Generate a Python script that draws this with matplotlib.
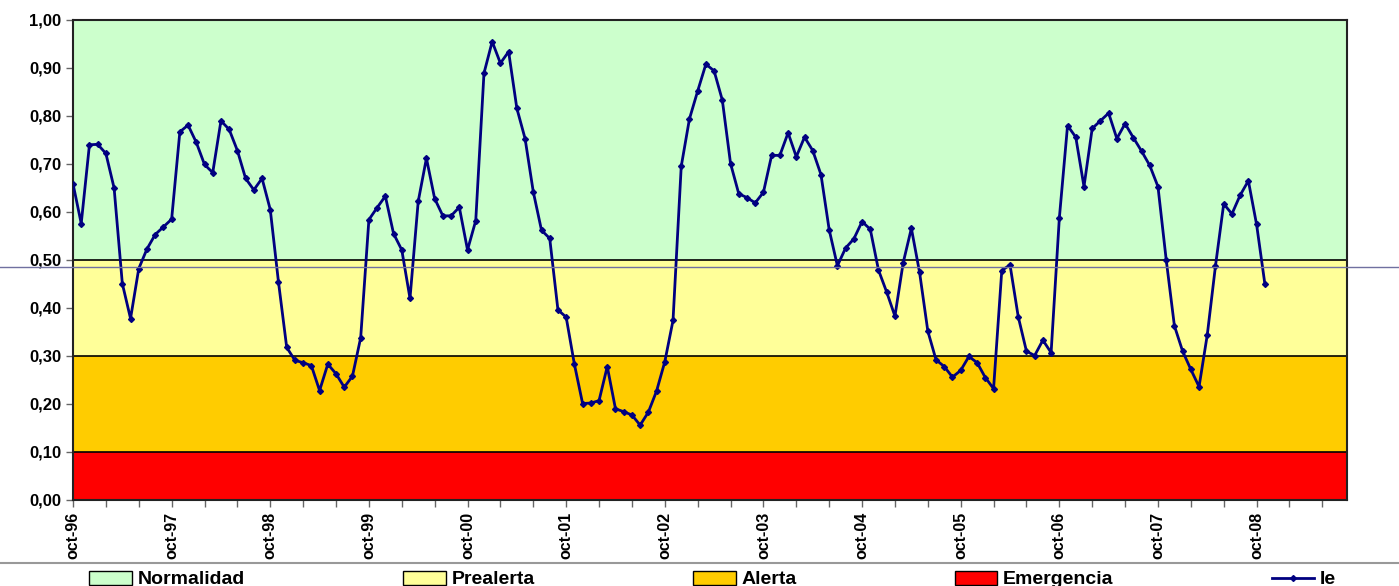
import numpy as np
import matplotlib.pyplot as plt
from matplotlib.lines import Line2D
from matplotlib.patches import Patch

plt.rcParams["font.family"] = ["Liberation Sans", "DejaVu Sans"]

# monthly index Ie, oct-96 .. nov-08
ie = [
    0.659, 0.576, 0.740, 0.741, 0.722, 0.650, 0.451, 0.378, 0.482, 0.523,
    0.553, 0.569, 0.585, 0.767, 0.781, 0.745, 0.699, 0.682, 0.790, 0.772,
    0.728, 0.670, 0.646, 0.670, 0.605, 0.454, 0.318, 0.291, 0.286, 0.280,
    0.228, 0.283, 0.263, 0.235, 0.258, 0.338, 0.584, 0.609, 0.633, 0.555,
    0.521, 0.420, 0.622, 0.712, 0.628, 0.592, 0.592, 0.610, 0.521, 0.582,
    0.889, 0.955, 0.910, 0.934, 0.816, 0.753, 0.642, 0.562, 0.545, 0.396,
    0.381, 0.283, 0.201, 0.202, 0.207, 0.278, 0.190, 0.184, 0.177, 0.156,
    0.183, 0.227, 0.288, 0.374, 0.695, 0.794, 0.852, 0.908, 0.894, 0.833,
    0.701, 0.638, 0.630, 0.619, 0.641, 0.718, 0.718, 0.765, 0.715, 0.756,
    0.728, 0.678, 0.563, 0.488, 0.525, 0.544, 0.580, 0.564, 0.479, 0.433,
    0.383, 0.494, 0.566, 0.474, 0.352, 0.292, 0.278, 0.256, 0.270, 0.299,
    0.286, 0.255, 0.232, 0.478, 0.490, 0.382, 0.310, 0.301, 0.333, 0.307,
    0.587, 0.780, 0.756, 0.653, 0.774, 0.790, 0.806, 0.753, 0.784, 0.755,
    0.727, 0.697, 0.653, 0.501, 0.363, 0.310, 0.272, 0.236, 0.344, 0.488,
    0.617, 0.596, 0.635, 0.665, 0.574, 0.451,
]
n_months = 156  # category axis runs oct-96 .. sep-09
year_labels = ["oct-96", "oct-97", "oct-98", "oct-99", "oct-00", "oct-01", "oct-02",
               "oct-03", "oct-04", "oct-05", "oct-06", "oct-07", "oct-08"]

band_names = ["Emergencia", "Alerta", "Prealerta", "Normalidad"]
band_edges = [0.0, 0.1, 0.3, 0.5, 1.0]
band_colors = ["#FF0000", "#FFCC00", "#FFFF99", "#CCFFCC"]

fig = plt.figure(figsize=(13.99, 5.86), dpi=100)
ax = fig.add_axes([73 / 1399, 1 - 500 / 586, (1347 - 73) / 1399, 480 / 586])

x_all = np.arange(n_months)
for lo, hi, c in zip(band_edges[:-1], band_edges[1:], band_colors):
    ax.fill_between(x_all, lo, hi, facecolor=c, edgecolor="none", zorder=1)
for y in band_edges[1:-1]:
    ax.axhline(y, color="black", lw=1.2, zorder=2)

x = np.arange(len(ie))
ax.plot(x, ie, color="#000080", lw=2, marker="D", ms=3, zorder=3)

ax.set_xlim(0, n_months - 1)
ax.set_ylim(0, 1)
ax.set_yticks(np.arange(0, 1.01, 0.1))
ax.set_yticklabels([f"{v:.2f}".replace(".", ",") for v in np.arange(0, 1.01, 0.1)],
                   fontsize=12, fontweight="bold")
ax.set_xticks(np.arange(0, n_months, 4))
ax.set_xticklabels([year_labels[k // 12] if k % 12 == 0 and k // 12 < len(year_labels) else ""
                    for k in range(0, n_months, 4)],
                   rotation=90, fontsize=11.5, fontweight="bold")
ax.tick_params(direction="out", length=5, color="#666666", width=1)
for s in ax.spines.values():
    s.set_linewidth(1.5)
    s.set_color("#222222")

# stray gray line across the whole picture
fig.add_artist(Line2D([0, 1], [1 - 267 / 586] * 2, transform=fig.transFigure,
                      color="#7070A0", lw=1))

handles = [Patch(facecolor=band_colors[3], edgecolor="black", label=band_names[3]),
           Patch(facecolor=band_colors[2], edgecolor="black", label=band_names[2]),
           Patch(facecolor=band_colors[1], edgecolor="black", label=band_names[1]),
           Patch(facecolor=band_colors[0], edgecolor="black", label=band_names[0]),
           Line2D([0], [0], color="#000080", lw=2, marker="D", ms=3, label="Ie")]
leg = fig.legend(handles=handles, loc="upper left", ncol=5, mode="expand",
                 bbox_to_anchor=(0.061, 0.0, 0.897, 1 - 567 / 586),
                 prop={"weight": "bold", "size": 14}, frameon=False,
                 handlelength=2.2, handleheight=0.7, handletextpad=0.3,
                 borderaxespad=0, borderpad=0.2)
fig.add_artist(Line2D([0, 1], [1 - 563 / 586] * 2, transform=fig.transFigure,
                      color="#999999", lw=1.5))

fig.savefig("out.png", dpi=100)
